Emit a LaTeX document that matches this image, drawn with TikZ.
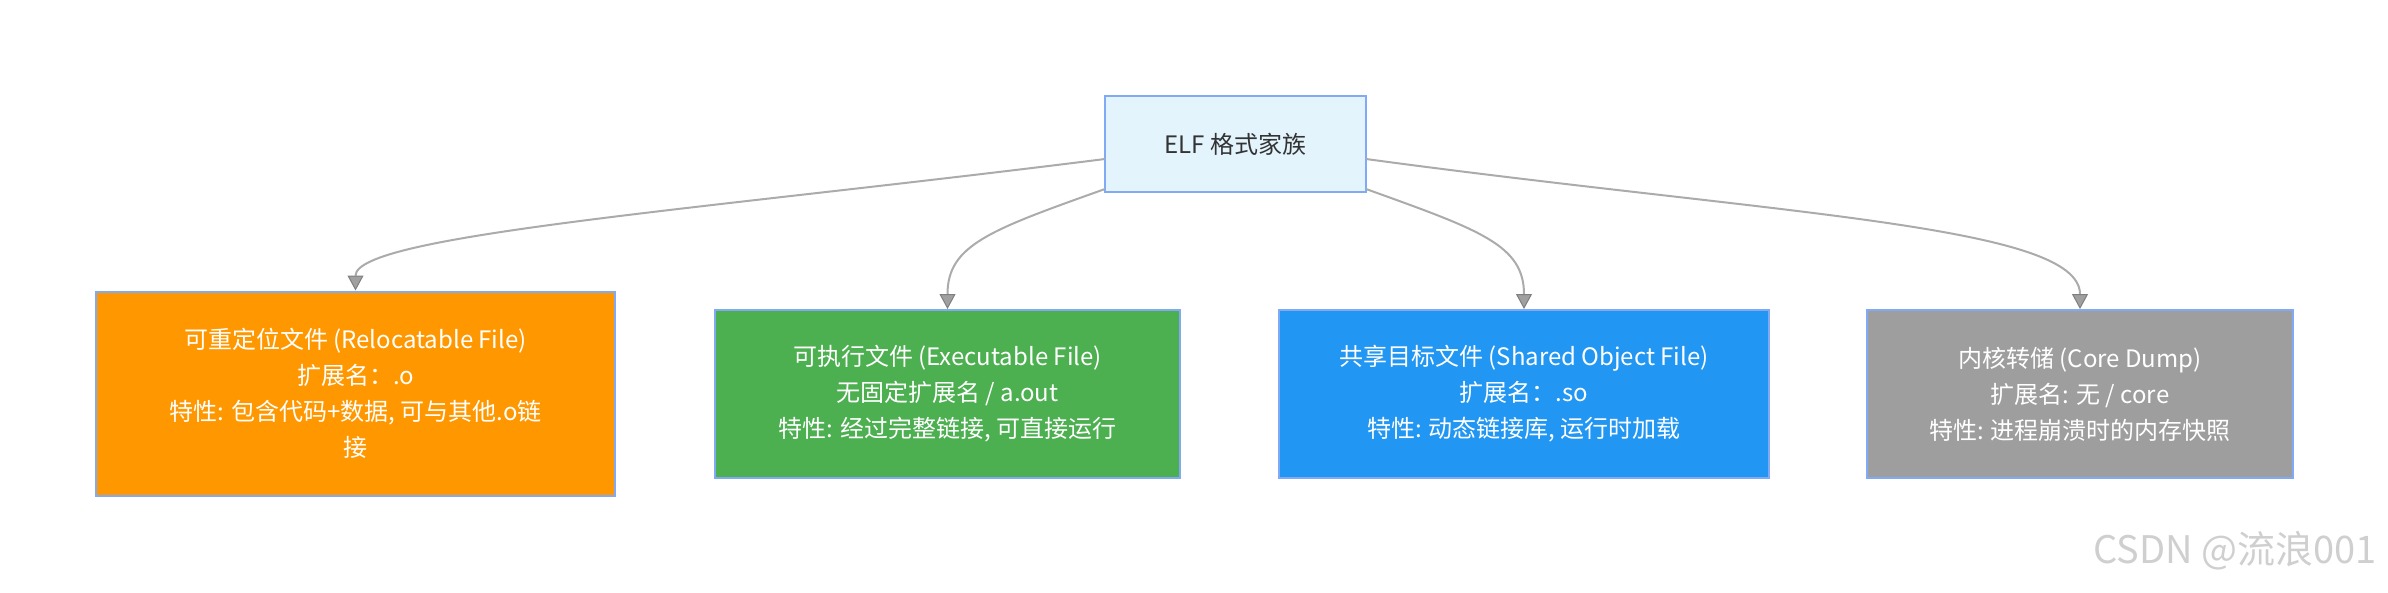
\documentclass[tikz,border=0pt]{standalone}
\usepackage{fontspec}
\setmainfont{Noto Sans CJK SC}
\usepackage{tikz}
\usetikzlibrary{arrows.meta}
\definecolor{rootfill}{HTML}{E3F4FD}
\definecolor{boxline}{HTML}{80AAF5}
\definecolor{roottext}{HTML}{333333}
\definecolor{relfill}{HTML}{FF9800}
\definecolor{exefill}{HTML}{4CAF50}
\definecolor{sofill}{HTML}{2196F3}
\definecolor{corefill}{HTML}{9E9E9E}
\definecolor{edgegray}{HTML}{ABABAB}
\definecolor{tipgray}{HTML}{A0A0A0}
\definecolor{tipline}{HTML}{7F7F7F}
\definecolor{markgray}{HTML}{CFCFCF}
\tikzset{
	elfbox/.style={draw=boxline, line width=2pt, inner sep=0pt, align=center,
		font=\fontsize{24}{36}\selectfont},
	rootbox/.style={elfbox, fill=rootfill, text=roottext},
	kindbox/.style={elfbox, text=white},
	elfedge/.style={draw=edgegray, line width=2pt,
		-{Triangle[width=16pt,length=15pt,fill=tipgray,color=tipline,line width=1pt]}},
}

\begin{document}
\begin{tikzpicture}[x=1pt, y=-1pt]
			%%%%% START %%%%%
			
			\useasboundingbox (0, 0) rectangle (2388, 592);
			
			\node[rootbox, minimum width=261, minimum height=96] (root) at (1235.5, 144) {ELF 格式家族};
			
			\node[kindbox, fill=relfill, minimum width=519, minimum height=204] (reloc) at (355.5, 393.5)
				{可重定位文件 (Relocatable File)\\扩展名：.o\\特性: 包含代码+数据, 可与其他.o链\\接};
			\node[kindbox, fill=exefill, minimum width=465, minimum height=168] (exec) at (947.5, 394)
				{可执行文件 (Executable File)\\无固定扩展名 / a.out\\特性: 经过完整链接, 可直接运行};
			\node[kindbox, fill=sofill, minimum width=490, minimum height=168] (shared) at (1524, 394)
				{共享目标文件 (Shared Object File)\\扩展名：.so\\特性: 动态链接库, 运行时加载};
			\node[kindbox, fill=corefill, minimum width=426, minimum height=168] (core) at (2080, 394)
				{内核转储 (Core Dump)\\扩展名: 无 / core\\特性: 进程崩溃时的内存快照};
			
			\coordinate (r1) at (1105, 159);
			\coordinate (r2) at (1105, 189);
			\coordinate (r3) at (1366, 189);
			\coordinate (r4) at (1366, 159);
			
			\draw[elfedge] (r1) .. controls (700, 210) and (355.5, 235) .. (reloc.north);
			\draw[elfedge] (r2) .. controls (990, 230) and (947.5, 245) .. (exec.north);
			\draw[elfedge] (r3) .. controls (1480, 230) and (1524, 245) .. (shared.north);
			\draw[elfedge] (r4) .. controls (1780, 215) and (2080, 225) .. (core.north);
			
			\node[text=markgray, anchor=base east, font=\fontsize{38}{38}\selectfont] (mark) at (2380, 563) {CSDN @流浪001};
			
			%%%%% END %%%%%
		\end{tikzpicture}
\end{document}
